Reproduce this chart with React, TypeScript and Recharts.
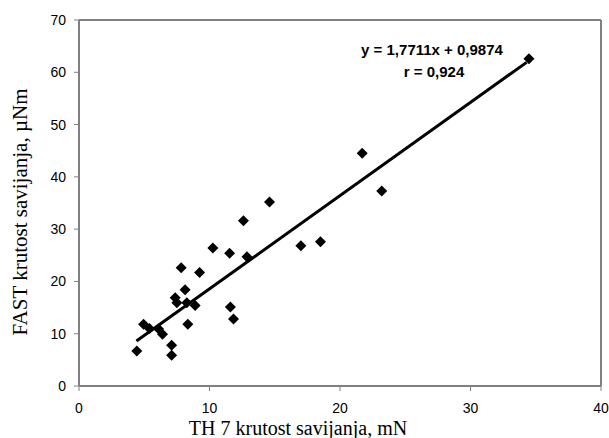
import React from 'react';
import { ScatterChart, Scatter, XAxis, YAxis, ReferenceLine } from 'recharts';

const th7Values = [4.43, 4.95, 5.4, 6.1, 6.4, 7.1, 7.1, 7.37, 7.5, 8.13, 8.26, 8.9, 8.34, 7.83, 9.24, 10.26, 11.54, 12.87, 11.6, 11.84, 12.6, 14.6, 17.0, 18.5, 21.7, 23.2, 34.48];
const fastValues = [6.7, 11.8, 11.0, 10.9, 9.9, 7.8, 5.9, 16.9, 15.9, 18.4, 15.9, 15.4, 11.8, 22.6, 21.7, 26.4, 25.4, 24.7, 15.1, 12.8, 31.6, 35.2, 26.8, 27.6, 44.5, 37.3, 62.6];
const trendX = [4.4, 34.3];
const trendY = [8.6, 61.9];
const xTicks = [0, 10, 20, 30, 40];
const yTicks = [0, 10, 20, 30, 40, 50, 60, 70];
const equationText = 'y = 1,7711x + 0,9874';
const rText = 'r = 0,924';
const xTitle = 'TH 7 krutost savijanja, mN';
const yTitle = 'FAST krutost savijanja, µNm';

const points = th7Values.map((x, i) => ({ x, y: fastValues[i] }));

const Diamond = (props: any) => {
  const { cx, cy } = props;
  const r = 5.5;
  return (
    <polygon
      points={`${cx},${cy - r} ${cx + r},${cy} ${cx},${cy + r} ${cx - r},${cy}`}
      fill="#000"
    />
  );
};

const sans = 'Liberation Sans, Arial, sans-serif';
const serif = 'Liberation Serif, Times New Roman, serif';

export default function App() {
  return (
    <div style={{ position: 'absolute', left: 0, top: 0, width: 609, height: 438, background: '#fff' }}>
      <ScatterChart width={609} height={438} margin={{ top: 20, right: 8, bottom: 0, left: 0 }}>
        <XAxis
          type="number"
          dataKey="x"
          domain={[0, 40]}
          ticks={xTicks}
          interval={0}
          height={52}
          axisLine={{ stroke: '#808080', strokeWidth: 2 }}
          tickLine={{ stroke: '#808080' }}
          tickSize={5}
          tickMargin={12}
          tick={{ fontFamily: sans, fontSize: 14, fill: '#000' }}
        />
        <YAxis
          type="number"
          dataKey="y"
          domain={[0, 70]}
          ticks={yTicks}
          interval={0}
          width={79}
          axisLine={{ stroke: '#808080', strokeWidth: 2 }}
          tickLine={{ stroke: '#808080' }}
          tickSize={5}
          tickMargin={8}
          tick={{ fontFamily: sans, fontSize: 14, fill: '#000' }}
        />
        <ReferenceLine y={70} stroke="#808080" strokeWidth={2} />
        <ReferenceLine x={40} stroke="#808080" strokeWidth={2} />
        <ReferenceLine
          segment={[{ x: trendX[0], y: trendY[0] }, { x: trendX[1], y: trendY[1] }]}
          stroke="#000"
          strokeWidth={3}
        />
        <Scatter data={points} shape={<Diamond />} isAnimationActive={false} />
      </ScatterChart>
      <svg width={609} height={438} style={{ position: 'absolute', left: 0, top: 0, pointerEvents: 'none' }}>
        <text x={432} y={55} textAnchor="middle" fontFamily={sans} fontSize={15} fontWeight="bold" fill="#000">{equationText}</text>
        <text x={434} y={77} textAnchor="middle" fontFamily={sans} fontSize={15} fontWeight="bold" fill="#000">{rText}</text>
        <text x={298} y={435} textAnchor="middle" fontFamily={serif} fontSize={20} fill="#000">{xTitle}</text>
        <text x={0} y={0} transform="translate(27,212) rotate(-90)" textAnchor="middle" fontFamily={serif} fontSize={21} fill="#000">{yTitle}</text>
      </svg>
    </div>
  );
}
